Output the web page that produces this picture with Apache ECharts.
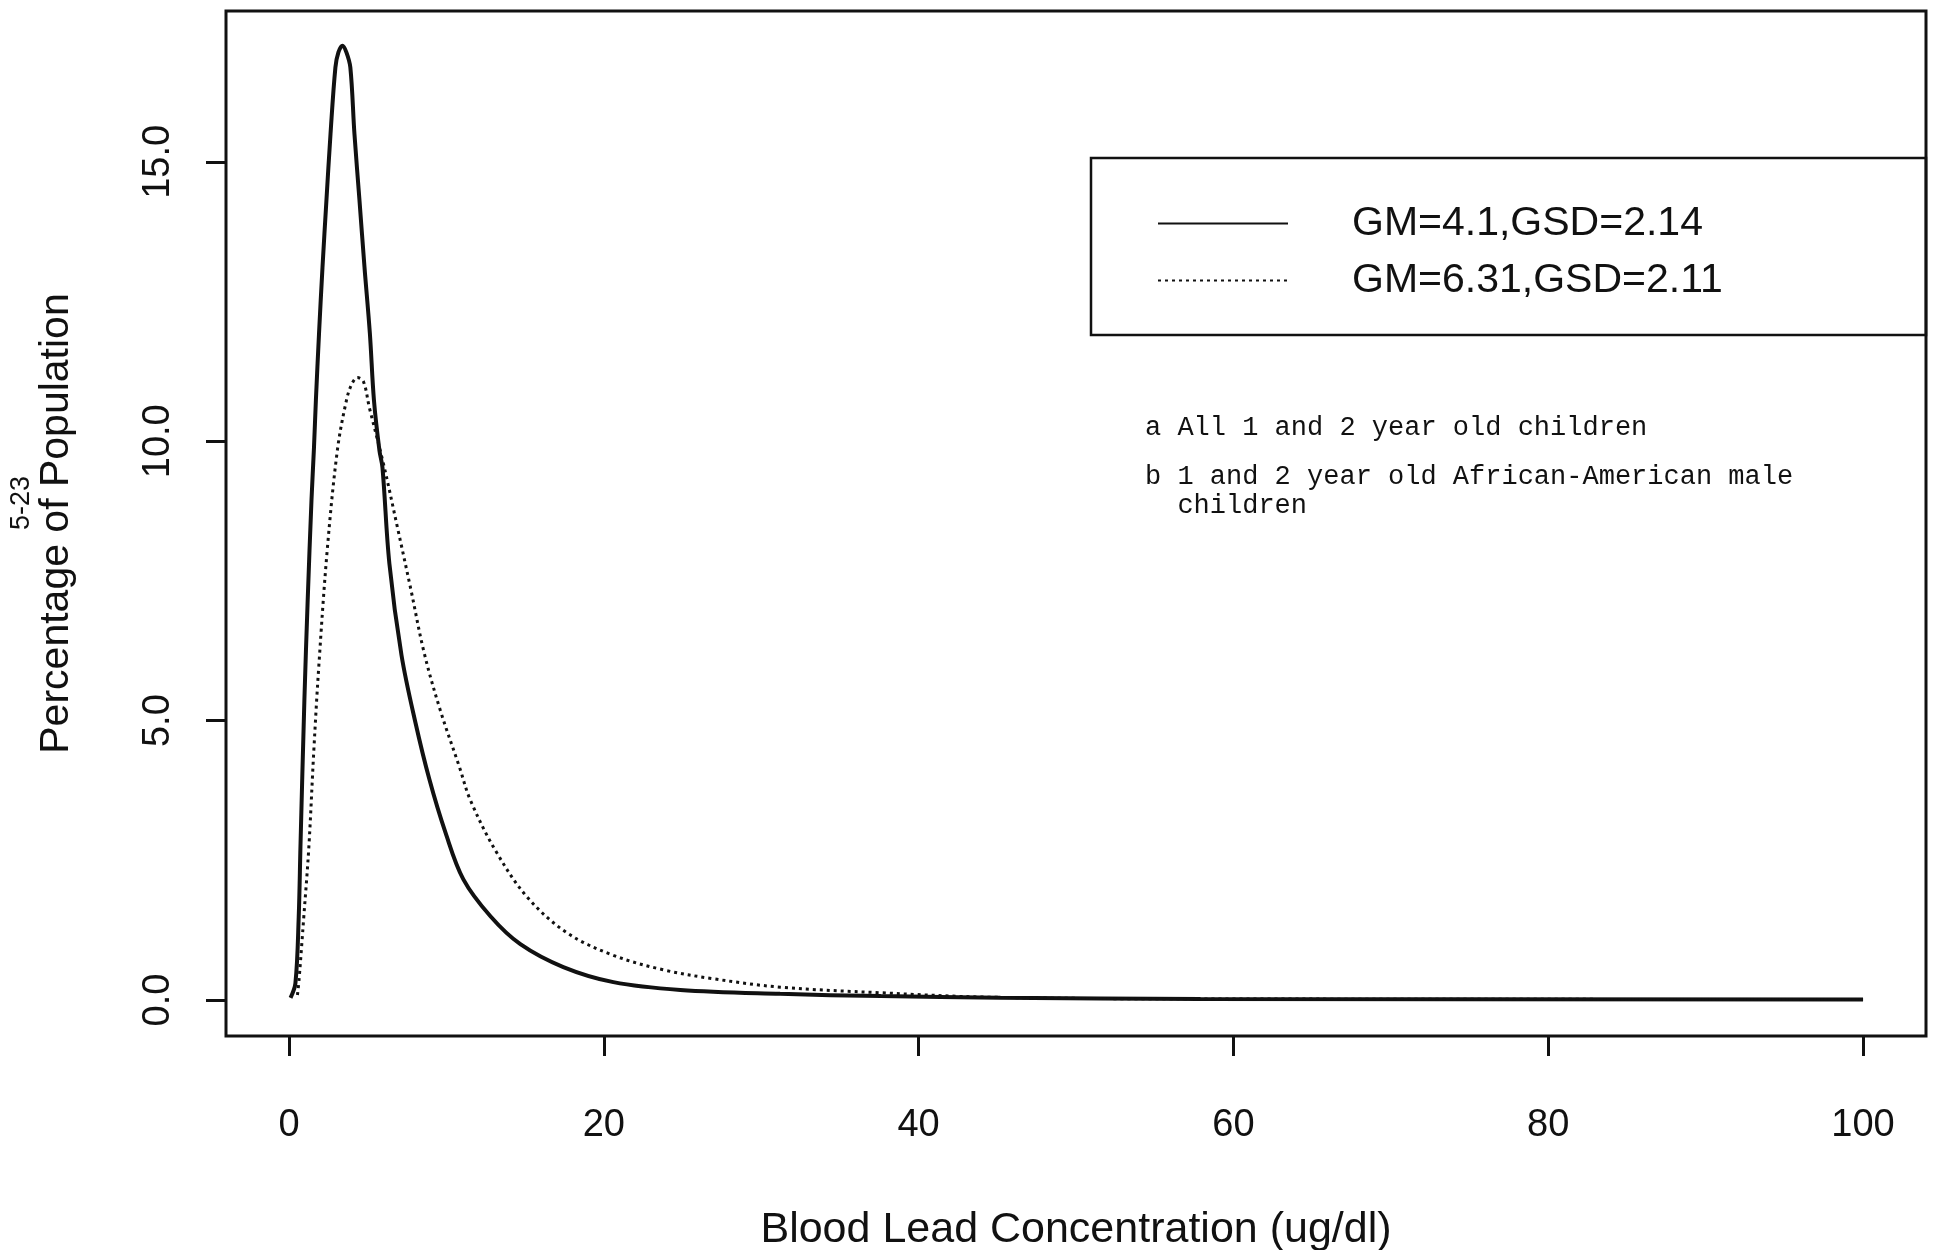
<!DOCTYPE html>
<html>
<head>
<meta charset="utf-8">
<title>Blood lead distributions</title>
<script src="https://cdn.jsdelivr.net/npm/echarts@6/dist/echarts.min.js"></script>
<style>
  html, body { margin: 0; padding: 0; background: #fff; }
  #chart-box { width: 1947px; height: 1250px; }
</style>
</head>
<body>
<div id="chart-box"></div>
<script>
// tick positions
var xTicks = [0, 20, 40, 60, 80, 100];
var yTicks = [0, 5, 10, 15];

// legend names
var seriesNames = ['GM=4.1,GSD=2.14', 'GM=6.31,GSD=2.11'];

// solid curve
var solidX = [0.1, 0.41, 0.62, 0.73, 0.98, 1.19, 1.43, 1.59, 1.71, 1.91, 2.13, 2.38, 2.64, 2.95, 3.14, 3.40,
    3.65, 3.90, 4.16, 4.48, 4.80, 5.14, 5.40, 5.75, 5.94, 6.38, 7.15, 8.03, 8.92, 9.94, 11.08, 12.80,
    14.70, 17.43, 20.61, 24.86, 31.2, 37.6, 45.2, 57.9, 100];
var solidY = [0.04, 0.30, 1.49, 2.74, 5.37, 7.16, 8.94, 9.89, 10.73, 11.93, 13.11, 14.31, 15.50, 16.69, 16.96, 17.08,
    16.96, 16.69, 15.50, 14.31, 13.11, 11.93, 10.73, 9.83, 9.53, 7.81, 6.17, 4.97, 3.95, 3.00, 2.16, 1.50,
    1.00, 0.59, 0.32, 0.18, 0.11, 0.07, 0.04, 0.02, 0.01];

// dotted curve
var dottedX = [0.54, 0.64, 0.94, 1.26, 1.58, 1.89, 2.43, 3.08, 3.65, 3.97, 4.35, 4.73, 5.11, 6.00, 6.89, 7.72,
    8.60, 9.62, 10.83, 11.52, 13.11, 15.14, 17.68, 20.61, 23.79, 26.96, 31.22, 37.57, 44.55, 57.9, 100];
var dottedY = [0.09, 0.36, 1.48, 2.72, 4.47, 5.95, 8.05, 9.85, 10.73, 11.01, 11.14, 11.07, 10.60, 9.60, 8.46, 7.38,
    6.20, 5.18, 4.17, 3.58, 2.68, 1.84, 1.20, 0.80, 0.54, 0.38, 0.23, 0.13, 0.05, 0.02, 0.01];

// notes beside the legend
var noteA = 'a All 1 and 2 year old children';
var noteB = 'b 1 and 2 year old African-American male\n  children';

function pairs(xs, ys) {
    return xs.map(function(x, i) { return [x, ys[i]]; });
}

var sansFont = '"Liberation Sans", Arial, sans-serif';
var ink = '#111';

var chart = echarts.init(document.getElementById('chart-box'));

var option = {
    animation: false,
    backgroundColor: '#fff',
    grid: {
        left: 226,
        right: 21,
        top: 11,
        bottom: 214,
        outerBoundsMode: 'none',
        show: true,
        borderColor: ink,
        borderWidth: 3
    },
    legend: {
        orient: 'vertical',
        left: 1157,
        top: 203,
        padding: 0,
        itemGap: 16,
        itemWidth: 130,
        itemHeight: 14,
        data: seriesNames,
        itemStyle: { opacity: 0 },
        textStyle: {
            color: ink,
            fontFamily: sansFont,
            fontSize: 41,
            padding: [0, 0, 0, 59]
        }
    },
    xAxis: {
        type: 'value',
        min: -4,
        max: 104,
        axisLine: { show: false, onZero: false },
        splitLine: { show: false },
        axisTick: {
            show: true,
            length: 20,
            customValues: xTicks,
            lineStyle: { color: ink, width: 3 }
        },
        axisLabel: {
            customValues: xTicks,
            margin: 71,
            color: ink,
            fontFamily: sansFont,
            fontSize: 38
        },
        name: 'Blood Lead Concentration (ug/dl)',
        nameLocation: 'middle',
        nameGap: 173,
        nameTextStyle: {
            color: ink,
            fontFamily: sansFont,
            fontSize: 43
        }
    },
    yAxis: {
        type: 'value',
        min: -0.644,
        max: 17.7,
        axisLine: { show: false, onZero: false },
        splitLine: { show: false },
        axisTick: {
            show: true,
            length: 20,
            customValues: yTicks,
            lineStyle: { color: ink, width: 3 }
        },
        axisLabel: {
            customValues: yTicks,
            rotate: 90,
            margin: 48,
            color: ink,
            fontFamily: sansFont,
            fontSize: 38,
            formatter: function(v) { return v.toFixed(1); }
        },
        name: 'Percentage of Population',
        nameLocation: 'middle',
        nameGap: 149,
        nameTextStyle: {
            color: ink,
            fontFamily: sansFont,
            fontSize: 41
        }
    },
    series: [{
            name: seriesNames[0],
            type: 'line',
            symbol: 'none',
            smooth: 0.35,
            data: pairs(solidX, solidY),
            lineStyle: { color: ink, width: 4 },
            itemStyle: { color: ink }
        },
        {
            name: seriesNames[1],
            type: 'line',
            symbol: 'none',
            smooth: 0.35,
            data: pairs(dottedX, dottedY),
            lineStyle: { color: ink, width: 3, type: [3, 4] },
            itemStyle: { color: ink }
        }
    ],
    graphic: [{
            // legend box
            type: 'rect',
            shape: { x: 1091, y: 158, width: 835, height: 177 },
            style: { fill: 'none', stroke: ink, lineWidth: 2.5 },
            z: 10
        },
        {
            type: 'text',
            style: {
                x: 1145, y: 428, text: noteA,
                font: '27px "Liberation Mono", monospace',
                fill: ink, verticalAlign: 'middle'
            }
        },
        {
            type: 'text',
            style: {
                x: 1145, y: 462, text: noteB,
                font: '27px "Liberation Mono", monospace',
                lineHeight: 29,
                fill: ink, verticalAlign: 'top'
            }
        },
        {
            // page number from the scan
            type: 'text',
            x: 22,
            y: 503,
            rotation: Math.PI / 2,
            style: {
                text: '5-23',
                font: '27px "Liberation Sans", sans-serif',
                fill: ink, align: 'center', verticalAlign: 'middle'
            }
        }
    ]
};

chart.setOption(option);
</script>
</body>
</html>
